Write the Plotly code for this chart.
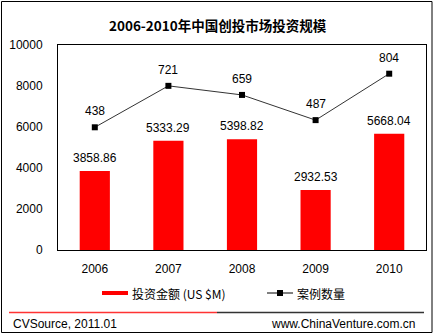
import plotly.graph_objects as go

years = ["2006", "2007", "2008", "2009", "2010"]
invest = [3858.86, 5333.29, 5398.82, 2932.53, 5668.04]
cases = [438, 721, 659, 487, 804]
y_ticks = [0, 2000, 4000, 6000, 8000, 10000]

title = "2006-2010年中国创投市场投资规模"
bar_name = "投资金额 (US $M)"
line_name = "案例数量"
src_left = "CVSource, 2011.01"
src_right = "www.ChinaVenture.com.cn"

FONT = "Liberation Sans"
CJK = "Noto Sans CJK SC"

fig = go.Figure()
fig.add_trace(go.Bar(x=years, y=invest, marker_color="#FF0000", marker_line_width=0,
                     showlegend=False, hoverinfo="skip"))
fig.add_trace(go.Scatter(x=years, y=cases, yaxis="y2", mode="lines+markers",
                         line=dict(color="#333333", width=1),
                         marker=dict(symbol="square", size=6, color="#000000"),
                         showlegend=False, cliponaxis=False, hoverinfo="skip"))

ann = []
for i, v in enumerate(invest):
    ann.append(dict(x=i, y=v, xref="x", yref="y", text=f"{v:.2f}", showarrow=False,
                    yanchor="middle", yshift=13, font=dict(family=FONT, size=12, color="#000")))
for i, v in enumerate(cases):
    ann.append(dict(x=i, y=v, xref="x", yref="y2", text=str(v), showarrow=False,
                    yanchor="middle", yshift=16, font=dict(family=FONT, size=12, color="#000")))

def px(xp):
    return (xp - 58) / 368.0
def py(yp):
    return (250 - yp) / 205.0

# title
ann.append(dict(x=px(218), y=py(25), xref="paper", yref="paper", text="<b>" + title + "</b>",
                showarrow=False, xanchor="center", yanchor="middle",
                font=dict(family=CJK, size=13.5, color="#000")))
# legend texts
ann.append(dict(x=px(130), y=py(293), xref="paper", yref="paper", text=bar_name,
                showarrow=False, xanchor="left", yanchor="middle",
                font=dict(family=CJK, size=12, color="#000")))
ann.append(dict(x=px(295), y=py(293), xref="paper", yref="paper", text=line_name,
                showarrow=False, xanchor="left", yanchor="middle",
                font=dict(family=CJK, size=12, color="#000")))
# footer
ann.append(dict(x=px(11), y=py(324), xref="paper", yref="paper", text=src_left,
                showarrow=False, xanchor="left", yanchor="middle",
                font=dict(family=FONT, size=12, color="#000")))
ann.append(dict(x=px(417), y=py(324), xref="paper", yref="paper", text=src_right,
                showarrow=False, xanchor="right", yanchor="middle",
                font=dict(family=FONT, size=12, color="#000")))

shapes = [
    # outer border
    dict(type="rect", xref="paper", yref="paper", x0=px(1.5), x1=px(432), y0=py(1.5), y1=py(332.5),
         line=dict(color="#000", width=1), layer="below"),
    # legend red bar
    dict(type="rect", xref="paper", yref="paper", x0=px(102), x1=px(128), y0=py(291), y1=py(295),
         line=dict(width=0), fillcolor="#FF0000"),
    # legend line
    dict(type="line", xref="paper", yref="paper", x0=px(267), x1=px(293), y0=py(293), y1=py(293),
         line=dict(color="#000", width=1)),
    dict(type="rect", xref="paper", yref="paper", x0=px(277), x1=px(283), y0=py(290), y1=py(296),
         line=dict(width=0), fillcolor="#000"),
    # footer separator
    dict(type="line", xref="paper", yref="paper", x0=px(9), x1=px(217), y0=py(312.5), y1=py(312.5),
         line=dict(color="#FF3333", width=1.5)),
    dict(type="line", xref="paper", yref="paper", x0=px(217), x1=px(424), y0=py(312.5), y1=py(312.5),
         line=dict(color="#333333", width=1.5)),
]

fig.update_layout(
    width=435, height=335,
    margin=dict(l=58, r=9, t=45, b=85, pad=0),
    paper_bgcolor="white", plot_bgcolor="white",
    bargap=0.59,
    showlegend=False,
    annotations=ann,
    shapes=shapes,
    font=dict(family=FONT, size=12, color="#000"),
    xaxis=dict(type="category", range=[-0.5, len(years) - 0.5], showgrid=False, showline=True,
               linecolor="#000", linewidth=1, mirror=True,
               ticks="outside", ticklen=8, tickcolor="rgba(0,0,0,0)",
               tickfont=dict(family=FONT, size=12, color="#000")),
    yaxis=dict(range=[0, 10000], tickvals=y_ticks, ticktext=[str(v) for v in y_ticks],
               showgrid=False, zeroline=False,
               showline=True, linecolor="#000", linewidth=1, mirror=True,
               ticks="outside", ticklen=12, tickcolor="rgba(0,0,0,0)",
               tickfont=dict(family=FONT, size=12, color="#000")),
    yaxis2=dict(range=[-400, 1000], overlaying="y", side="right", visible=False,
                showgrid=False, zeroline=False),
)

fig.write_html("out.html")
